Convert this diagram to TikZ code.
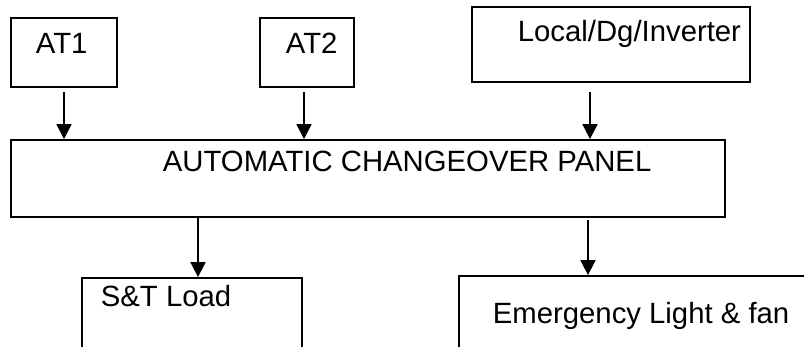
\documentclass[tikz,border=0pt]{standalone}
\usepackage{fontspec}
\setmainfont{Liberation Sans}
\usetikzlibrary{arrows.meta}
\begin{document}
\begin{tikzpicture}[x=1pt, y=-1pt, line width=1.8pt,
    >={Triangle[width=15pt,length=15pt]},
    box/.style={draw, inner sep=0pt},
    lbl/.style={anchor=base west, inner sep=0pt, font=\fontsize{29.3}{35}\selectfont}]
    \clip (0,0) rectangle (804,347);

    % sources
    \node[box, minimum width=106, minimum height=69] (at1) at (64,52.5) {};
    \node[box, minimum width=94, minimum height=69] (at2) at (307,52.5) {};
    \node[box, minimum width=278, minimum height=75] (local) at (611,44.5) {};
    \node[lbl] (at1txt) at (35,54) {AT1};
    \node[lbl] (at2txt) at (285,54) {AT2};
    \node[lbl] (localtxt) at (517,42) {Local/Dg/Inverter};

    % panel
    \node[box, minimum width=714, minimum height=77] (acp) at (368,178.5) {};
    \node[lbl] (acptxt) at (162,172) {AUTOMATIC CHANGEOVER PANEL};

    % loads (cut off at the bottom edge)
    \node[box, minimum width=220, minimum height=100] (stload) at (192,328) {};
    \node[box, minimum width=371, minimum height=100] (emlight) at (644.5,326) {};
    \node[lbl] (stloadtxt) at (100,307) {S\&T Load};
    \node[lbl] (emlighttxt) at (492,324) {Emergency Light \& fan};

    \draw[->] ([yshift=-4pt]at1.south) -- (at1.south |- acp.north);
    \draw[->] ([xshift=-3pt,yshift=-4pt]at2.south) -- ([xshift=-3pt]at2.south |- acp.north);
    \draw[->] ([xshift=-21pt,yshift=-9pt]local.south) -- ([xshift=-21pt]local.south |- acp.north);
    \draw[->] ([xshift=6pt]stload.north |- acp.south) -- ([xshift=6pt]stload.north);
    \draw[->] ([xshift=-56.5pt,yshift=-2pt]emlight.north |- acp.south) -- ([xshift=-56.5pt]emlight.north);
\end{tikzpicture}
\end{document}
